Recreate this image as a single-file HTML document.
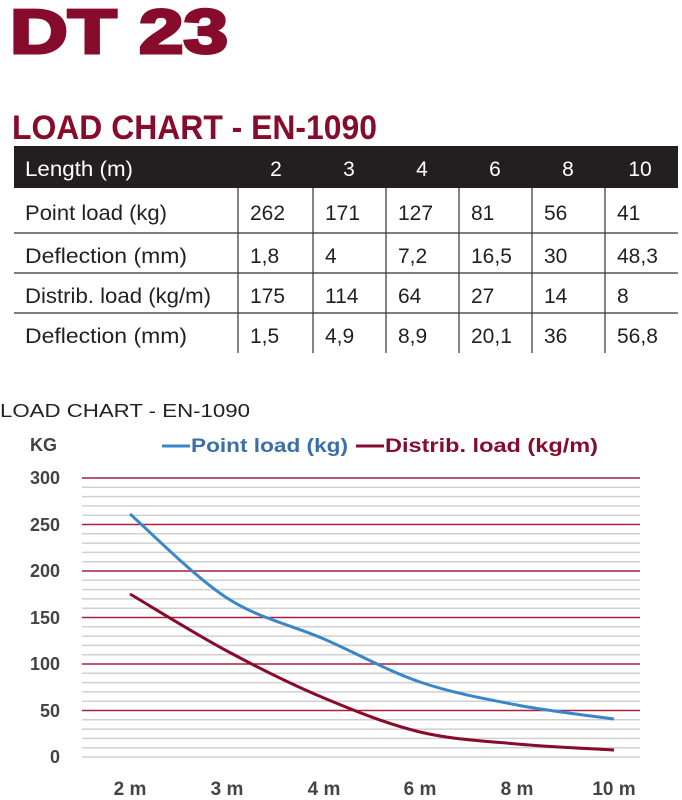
<!DOCTYPE html>
<html><head><meta charset="utf-8"><style>
html,body{margin:0;padding:0;background:#fff;width:682px;height:800px;overflow:hidden}
svg{display:block}
</style></head><body>
<svg width="682" height="800" viewBox="0 0 682 800" xmlns="http://www.w3.org/2000/svg" font-family="Liberation Sans, sans-serif">
<text x="10" y="53" font-size="62" font-weight="bold" fill="#870b2b" textLength="218" lengthAdjust="spacingAndGlyphs" stroke="#870b2b" stroke-width="3">DT 23</text>
<text x="12" y="139" font-size="34" font-weight="bold" fill="#870b2b" textLength="365" lengthAdjust="spacingAndGlyphs">LOAD CHART - EN-1090</text>
<rect x="14" y="146" width="664" height="42" fill="#231f20"/>
<g font-size="21" fill="#fff">
<text x="25" y="176" textLength="108" lengthAdjust="spacingAndGlyphs">Length (m)</text>
<text x="276" y="176" text-anchor="middle">2</text><text x="349" y="176" text-anchor="middle">3</text>
<text x="422" y="176" text-anchor="middle">4</text><text x="495" y="176" text-anchor="middle">6</text>
<text x="568" y="176" text-anchor="middle">8</text><text x="640" y="176" text-anchor="middle">10</text>
</g>
<g stroke="#333" stroke-width="1.2">
<line x1="14" y1="233" x2="678" y2="233"/><line x1="14" y1="273" x2="678" y2="273"/><line x1="14" y1="313" x2="678" y2="313"/>
<line x1="238" y1="188" x2="238" y2="353"/><line x1="313" y1="188" x2="313" y2="353"/><line x1="386" y1="188" x2="386" y2="353"/>
<line x1="459" y1="188" x2="459" y2="353"/><line x1="532" y1="188" x2="532" y2="353"/><line x1="605" y1="188" x2="605" y2="353"/>
</g>
<g font-size="21" fill="#231f20">
<text x="25" y="220" textLength="142" lengthAdjust="spacingAndGlyphs">Point load (kg)</text>
<text x="25" y="263" textLength="162" lengthAdjust="spacingAndGlyphs">Deflection (mm)</text>
<text x="25" y="303" textLength="186" lengthAdjust="spacingAndGlyphs">Distrib. load (kg/m)</text>
<text x="25" y="343" textLength="162" lengthAdjust="spacingAndGlyphs">Deflection (mm)</text>
<g>
<text x="250" y="220">262</text><text x="325" y="220">171</text><text x="398" y="220">127</text><text x="471" y="220">81</text><text x="544" y="220">56</text><text x="617" y="220">41</text>
<text x="250" y="263">1,8</text><text x="325" y="263">4</text><text x="398" y="263">7,2</text><text x="471" y="263">16,5</text><text x="544" y="263">30</text><text x="617" y="263">48,3</text>
<text x="250" y="303">175</text><text x="325" y="303">114</text><text x="398" y="303">64</text><text x="471" y="303">27</text><text x="544" y="303">14</text><text x="617" y="303">8</text>
<text x="250" y="343">1,5</text><text x="325" y="343">4,9</text><text x="398" y="343">8,9</text><text x="471" y="343">20,1</text><text x="544" y="343">36</text><text x="617" y="343">56,8</text>
</g></g>
<text x="0" y="417" font-size="18" fill="#222" textLength="250" lengthAdjust="spacingAndGlyphs">LOAD CHART - EN-1090</text>
<text x="30" y="451" font-size="18" font-weight="bold" fill="#444">KG</text>
<line x1="162" y1="446" x2="190" y2="446" stroke="#3a87c8" stroke-width="3"/>
<text x="191" y="452" font-size="19" font-weight="bold" fill="#3a6fa8" textLength="157" lengthAdjust="spacingAndGlyphs">Point load (kg)</text>
<line x1="356" y1="446" x2="384" y2="446" stroke="#870b2b" stroke-width="3"/>
<text x="385" y="452" font-size="19" font-weight="bold" fill="#870b2b" textLength="213" lengthAdjust="spacingAndGlyphs">Distrib. load (kg/m)</text>
<g stroke="#d0d0d0" stroke-width="1.5">
<line x1="82" x2="640" y1="487.3" y2="487.3"/><line x1="82" x2="640" y1="496.6" y2="496.6"/><line x1="82" x2="640" y1="505.9" y2="505.9"/><line x1="82" x2="640" y1="515.2" y2="515.2"/>
<line x1="82" x2="640" y1="533.8" y2="533.8"/><line x1="82" x2="640" y1="543.1" y2="543.1"/><line x1="82" x2="640" y1="552.4" y2="552.4"/><line x1="82" x2="640" y1="561.7" y2="561.7"/>
<line x1="82" x2="640" y1="580.3" y2="580.3"/><line x1="82" x2="640" y1="589.6" y2="589.6"/><line x1="82" x2="640" y1="598.9" y2="598.9"/><line x1="82" x2="640" y1="608.2" y2="608.2"/>
<line x1="82" x2="640" y1="626.8" y2="626.8"/><line x1="82" x2="640" y1="636.1" y2="636.1"/><line x1="82" x2="640" y1="645.4" y2="645.4"/><line x1="82" x2="640" y1="654.7" y2="654.7"/>
<line x1="82" x2="640" y1="673.3" y2="673.3"/><line x1="82" x2="640" y1="682.6" y2="682.6"/><line x1="82" x2="640" y1="691.9" y2="691.9"/><line x1="82" x2="640" y1="701.2" y2="701.2"/>
<line x1="82" x2="640" y1="719.8" y2="719.8"/><line x1="82" x2="640" y1="729.1" y2="729.1"/><line x1="82" x2="640" y1="738.4" y2="738.4"/><line x1="82" x2="640" y1="747.7" y2="747.7"/>
<line x1="82" x2="640" y1="757" y2="757"/>
</g>
<g stroke="#a8213f" stroke-width="1.6">
<line x1="82" x2="640" y1="478" y2="478"/><line x1="82" x2="640" y1="524.5" y2="524.5"/><line x1="82" x2="640" y1="571" y2="571"/>
<line x1="82" x2="640" y1="617.5" y2="617.5"/><line x1="82" x2="640" y1="664" y2="664"/><line x1="82" x2="640" y1="710.5" y2="710.5"/>
</g>
<g font-size="18" font-weight="bold" fill="#444" text-anchor="end">
<text x="60" y="484">300</text><text x="60" y="531">250</text><text x="60" y="577">200</text>
<text x="60" y="624">150</text><text x="60" y="670">100</text><text x="60" y="717">50</text><text x="60" y="763">0</text>
</g>
<g font-size="19" font-weight="bold" fill="#444" text-anchor="middle">
<text x="130" y="795">2 m</text><text x="227" y="795">3 m</text><text x="324" y="795">4 m</text>
<text x="420" y="795">6 m</text><text x="517" y="795">8 m</text><text x="614" y="795">10 m</text>
</g>
<path d="M130,514 C146.2,528 194.7,577.2 227,598 C259.3,618.8 291.8,625 324,639 C356.2,653 387.8,671 420,682 C452.2,693 484.7,698.8 517,705 C549.3,711.2 597.8,716.7 614,719" fill="none" stroke="#3a87c8" stroke-width="3"/>
<path d="M130,594 C146.2,603.5 194.7,633.7 227,651 C259.3,668.3 291.8,684.5 324,698 C356.2,711.5 387.8,724.3 420,732 C452.2,739.7 484.7,741 517,744 C549.3,747 597.8,749 614,750" fill="none" stroke="#870b2b" stroke-width="3"/>
</svg>
</body></html>
